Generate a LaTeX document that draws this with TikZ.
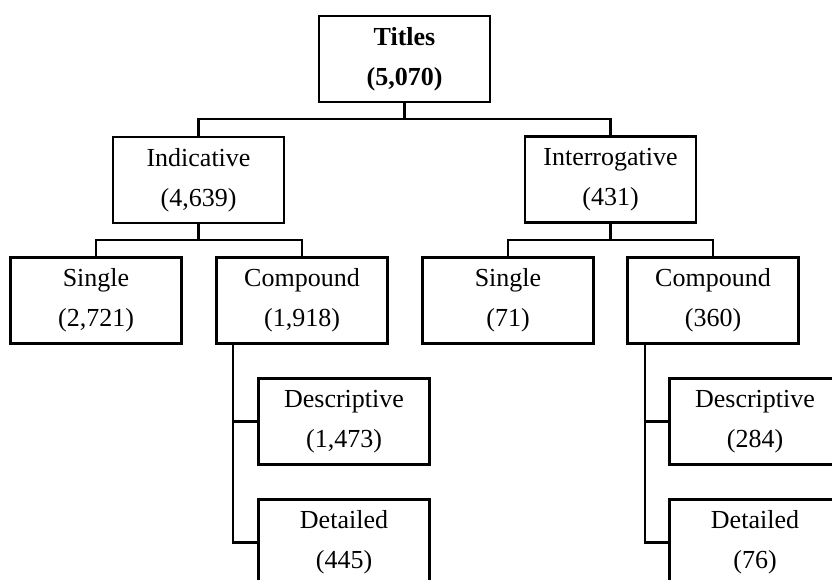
\documentclass[tikz,border=0pt]{standalone}
\usepackage{fontspec}
\setmainfont{Liberation Serif}
\begin{document}
\begin{tikzpicture}[x=1pt,y=-1pt,
  box/.style={draw,line width=2.2pt,minimum width=171pt,minimum height=86pt,inner sep=0pt,align=center,font=\fontsize{26}{40}\selectfont},
  conn/.style={line width=2.2pt}]
\useasboundingbox (0,0) rectangle (832,580);
\clip (0,0) rectangle (832,580);
\fill[white] (0,0) rectangle (832,580);
\node[box] (T) at (404.5,59) {\textbf{Titles}\\\textbf{(5,070)}};
\node[box] (I) at (198.5,180) {Indicative\\(4,639)};
\node[box] (Q) at (610.5,179.5) {Interrogative\\(431)};
\node[box] (IS) at (96,300.5) {Single\\(2,721)};
\node[box] (IC) at (302,300.5) {Compound\\(1,918)};
\node[box] (QS) at (508,300.5) {Single\\(71)};
\node[box] (QC) at (713,300.5) {Compound\\(360)};
\node[box] (ID) at (344,421.5) {Descriptive\\(1,473)};
\node[box] (IT) at (344,542.5) {Detailed\\(445)};
\node[box] (QD) at (755,421.5) {Descriptive\\(284)};
\node[box] (QT) at (755,542.5) {Detailed\\(76)};
\coordinate (tj) at (404.5,119);
\coordinate (ij) at (198.5,240);
\coordinate (qj) at (610.5,240);
\coordinate (ic) at (233,343);
\coordinate (qc) at (645,343);
\draw[conn] (T.south) -- (tj);
\draw[conn] (tj) -| (I.north);
\draw[conn] (tj) -| (Q.north);
\draw[conn] (I.south) -- (ij);
\draw[conn] (ij) -| (IS.north);
\draw[conn] (ij) -| (IC.north);
\draw[conn] (Q.south) -- (qj);
\draw[conn] (qj) -| (QS.north);
\draw[conn] (qj) -| (QC.north);
\draw[conn] (ic) |- (ID.west);
\draw[conn] (ic) |- (IT.west);
\draw[conn] (qc) |- (QD.west);
\draw[conn] (qc) |- (QT.west);
\end{tikzpicture}
\end{document}
